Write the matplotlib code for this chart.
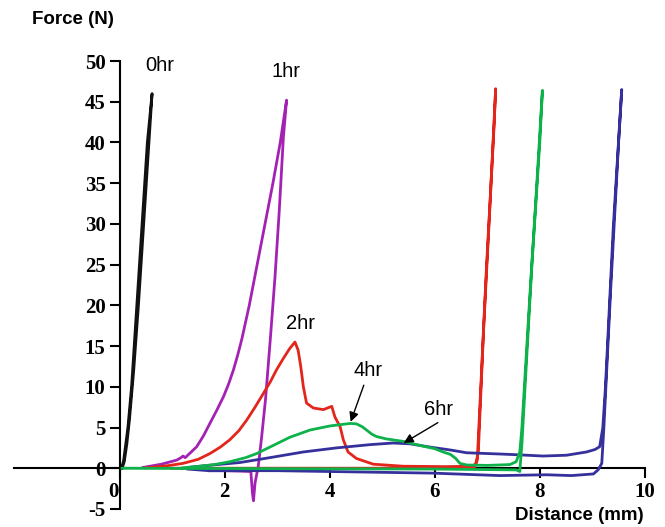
import matplotlib.pyplot as plt
import matplotlib.transforms as mtransforms

plt.rcParams['axes.unicode_minus'] = False

# curvas força x distância (ida + volta)
hr0_x = [0.04, 0.08, 0.12, 0.16, 0.23, 0.30, 0.37, 0.46, 0.53, 0.62,
         0.60, 0.53, 0.45, 0.36, 0.27, 0.19, 0.14, 0.09, 0.05]
hr0_y = [0, 1, 3, 5, 10, 17, 24, 33, 40, 46,
         44, 37, 29, 20, 12, 6, 3, 0.8, 0]

hr1_x = [0.45, 0.8, 1.09, 1.17, 1.21, 1.25, 1.30, 1.47, 1.60, 1.72, 1.85, 1.98,
         2.08, 2.17, 2.25, 2.33, 2.47, 2.62, 2.77, 2.92, 3.06, 3.18,
         3.12, 3.04, 2.96, 2.87, 2.78, 2.70, 2.64, 2.58, 2.55, 2.53, 2.50,
         2.3, 2.0, 1.72]
hr1_y = [0.1, 0.5, 1.0, 1.3, 1.5, 1.3, 1.6, 2.65, 4.0, 5.5, 7.1, 8.8,
         10.4, 12.1, 13.9, 15.9, 20, 25, 30, 35, 40, 45.2,
         40.7, 31.5, 23.5, 15.8, 8.5, 3.5, 0.2, -1.8, -4.0, -3.0, -0.4,
         -0.35, -0.3, -0.3]

hr2_x = [0.5, 0.9, 1.21, 1.5, 1.72, 1.92, 2.10, 2.27, 2.42, 2.58, 2.74, 2.87,
         2.99, 3.12, 3.24, 3.34, 3.40,
         3.45, 3.50, 3.56, 3.69, 3.88, 4.0, 4.04, 4.10, 4.20, 4.26, 4.35, 4.51,
         4.83, 5.40, 6.2, 6.70, 6.78, 6.83, 6.93, 7.05, 7.16,
         7.13, 6.98, 6.87, 6.81, 6.75, 5.0, 3.5, 1.0]
hr2_y = [0.05, 0.3, 0.6, 1.1, 1.8, 2.6, 3.5, 4.6, 5.9, 7.5, 9.2, 10.6,
         12.1, 13.5, 14.7, 15.5, 14.5,
         12.5, 10.0, 8.0, 7.4, 7.2, 7.5, 7.6, 6.3, 5.1, 3.5, 2.0, 1.2,
         0.5, 0.25, 0.2, 0.25, 0.5, 2.0, 17.0, 32.0, 46.6,
         42.0, 24.0, 9.0, 1.0, 0.0, 0.0, 0.0, 0.0]

hr4_x = [1.2, 1.47, 1.8, 2.10, 2.4, 2.61, 2.80, 2.99, 3.24, 3.63, 4.01, 4.39,
         4.51, 4.62, 4.70, 4.80, 4.89, 5.08, 5.40, 5.72, 6.0, 6.16, 6.30, 6.40,
         6.48, 6.61, 7.0, 7.43, 7.55, 7.62, 7.66, 7.80, 7.93, 8.05,
         8.0, 7.85, 7.72, 7.66, 7.63, 7.62, 7.55, 6.0, 3.0, 0.05]
hr4_y = [0.05, 0.2, 0.45, 0.8, 1.3, 1.8, 2.4, 3.0, 3.8, 4.7, 5.2, 5.5,
         5.45, 5.1, 4.7, 4.2, 3.9, 3.6, 3.3, 2.8, 2.4, 2.0, 1.7, 1.2,
         0.6, 0.4, 0.35, 0.45, 0.8, 2.0, 5.0, 20.0, 33.5, 46.4,
         40, 25, 10, 3, 0.5, -0.4, -0.2, -0.1, -0.05, 0.0]

hr6_x = [1.3, 1.6, 2.29, 2.86, 3.50, 4.13, 4.77, 5.21, 5.53, 5.91, 6.29, 6.61,
         7.24, 7.6, 8.06, 8.51, 8.89, 9.05, 9.14, 9.20, 9.25, 9.40, 9.56,
         9.50, 9.35, 9.22, 9.18, 9.11, 9.02, 8.6, 8.13, 7.24, 5.97, 4.5, 3.0,
         1.7, 1.3]
hr6_y = [0.1, 0.3, 0.7, 1.3, 2.0, 2.5, 2.9, 3.1, 3.0, 2.6, 2.25, 1.9,
         1.75, 1.65, 1.5, 1.6, 2.0, 2.3, 2.65, 5.0, 10.0, 29.7, 46.5,
         40, 22, 5, 0.6, -0.2, -0.7, -0.9, -0.8, -0.9, -0.6, -0.45, -0.3,
         -0.3, -0.1]

fig = plt.figure(figsize=(6.65, 5.27), dpi=100)
ax = fig.add_axes([0.0217, 0.0342, 0.948, 0.850])

lw = 2.0
ax.plot(hr0_x, hr0_y, color='#111111', lw=lw, zorder=3)
ax.plot(hr1_x, hr1_y, color='#a322b4', lw=lw, zorder=3)
ax.plot(hr2_x, hr2_y, color='#e3261b', lw=lw, zorder=3)
ax.plot(hr6_x, hr6_y, color='#35309c', lw=lw, zorder=3)
ax.plot(hr4_x, hr4_y, color='#0db24a', lw=lw, zorder=3)

ax.set_xlim(-2, 10)
ax.set_ylim(-5, 50)

for s in ['top', 'right']:
    ax.spines[s].set_visible(False)
ax.spines['left'].set_position(('data', 0))
ax.spines['bottom'].set_position(('data', 0))
ax.spines['left'].set_bounds(-5, 50)
ax.spines['left'].set_linewidth(1.5)
ax.spines['bottom'].set_linewidth(1.5)

ax.set_yticks(range(-5, 55, 5))
ax.set_xticks([0, 2, 4, 6, 8, 10])
ax.tick_params(axis='both', direction='out', length=7, width=1.5,
               labelsize=15, pad=3)
for lab in ax.get_xticklabels() + ax.get_yticklabels():
    lab.set_fontfamily('Liberation Serif')
    lab.set_fontweight('bold')

# o "0" do eixo x fica um pouco a esquerda
desloc = mtransforms.ScaledTranslation(-6 / 100, 0, fig.dpi_scale_trans)
xl = ax.get_xticklabels()[0]
xl.set_transform(xl.get_transform() + desloc)

fig.text(32 / 665, 1 - 20 / 527, 'Force (N)', fontsize=13.5, fontweight='bold',
         family='Liberation Sans', ha='left', va='center')
fig.text(644 / 665, 1 - 515 / 527, 'Distance (mm)', fontsize=13.5,
         fontweight='bold', family='Liberation Sans', ha='right', va='center')

rotulos = ['0hr', '1hr', '2hr', '4hr', '6hr']
rot_x = [0.485, 2.90, 3.17, 4.45, 5.80]
rot_y = [48.8, 48.1, 17.1, 11.3, 6.5]
for t, x, y in zip(rotulos, rot_x, rot_y):
    ax.text(x, y, t, fontsize=14.5, family='Liberation Sans',
            ha='left', va='baseline')

ax.annotate('', xy=(4.40, 5.7), xytext=(4.65, 10.2),
            arrowprops=dict(arrowstyle='-|>', lw=1, color='black',
                            mutation_scale=14, shrinkA=0, shrinkB=0))
ax.annotate('', xy=(5.41, 3.1), xytext=(6.06, 5.6),
            arrowprops=dict(arrowstyle='-|>', lw=1, color='black',
                            mutation_scale=14, shrinkA=0, shrinkB=0))

fig.savefig('out.png', dpi=100)
